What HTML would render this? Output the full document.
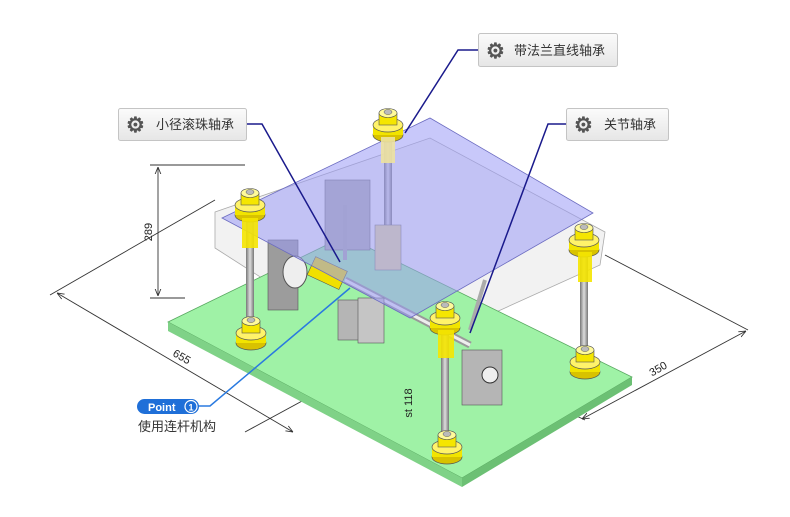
<!DOCTYPE html>
<html><head><meta charset="utf-8"><style>
body{margin:0;background:#fff;width:790px;height:512px;overflow:hidden;font-family:"Liberation Sans","Noto Sans CJK SC",sans-serif}
</style></head><body>
<svg width="790" height="512" viewBox="0 0 790 512" xmlns="http://www.w3.org/2000/svg" font-family="Liberation Sans, Noto Sans CJK SC, sans-serif">
<defs>
<linearGradient id="btn" x1="0" y1="0" x2="0" y2="1"><stop offset="0" stop-color="#fbfbfb"/><stop offset="1" stop-color="#e6e6e6"/></linearGradient>
<linearGradient id="rod" x1="0" y1="0" x2="1" y2="0"><stop offset="0" stop-color="#777"/><stop offset="0.5" stop-color="#ddd"/><stop offset="1" stop-color="#777"/></linearGradient>
<marker id="ar" viewBox="0 0 10 10" refX="10" refY="5" markerWidth="8" markerHeight="8" orient="auto-start-reverse"><path d="M0,1 L10,5 L0,9" fill="none" stroke="#333" stroke-width="1.2"/></marker>
<g id="brg"><ellipse cx="0" cy="10" rx="15" ry="7" fill="#d8c200" stroke="#555" stroke-width="0.7"/><rect x="-15" y="0" width="30" height="10" fill="#f2e400"/><ellipse cx="0" cy="0" rx="15" ry="7" fill="#fff36a" stroke="#555" stroke-width="0.7"/><rect x="-9" y="-12" width="18" height="12" fill="#f5e600" stroke="#555" stroke-width="0.6"/><ellipse cx="0" cy="-12" rx="9" ry="4.5" fill="#fffa9a" stroke="#555" stroke-width="0.6"/><ellipse cx="0" cy="-13" rx="4" ry="2.5" fill="#bbb" stroke="#555" stroke-width="0.5"/></g>
</defs>
<g stroke="#333" stroke-width="0.9" fill="none">
<line x1="57" y1="293" x2="293" y2="432" marker-start="url(#ar)" marker-end="url(#ar)"/><line x1="50" y1="295" x2="215" y2="200"/><line x1="245" y1="432" x2="455" y2="318"/>
<line x1="158" y1="167" x2="158" y2="296" marker-start="url(#ar)" marker-end="url(#ar)"/><line x1="150" y1="165" x2="245" y2="165"/><line x1="150" y1="298" x2="185" y2="298"/>
<line x1="582" y1="419" x2="746" y2="331" marker-start="url(#ar)" marker-end="url(#ar)"/><line x1="605" y1="255" x2="748" y2="330"/><line x1="490" y1="375" x2="585" y2="420"/>
<line x1="420" y1="372" x2="420" y2="435" marker-start="url(#ar)" marker-end="url(#ar)"/>
</g>
<polygon points="215,212 430,138 605,232 600,265 390,360 215,248" fill="#ececec" fill-opacity="0.7" stroke="#aaa" stroke-width="0.8"/>
<polygon points="168,322 345,236 632,377 462,478" fill="#9ff2a6" stroke="#58a860" stroke-width="0.8"/>
<polygon points="168,322 462,478 462,487 168,331" fill="#7fd287"/>
<polygon points="462,478 632,377 632,385 462,487" fill="#6cc074"/>
<rect x="268" y="240" width="30" height="70" fill="#9c9c9c" stroke="#555" stroke-width="0.6"/>
<rect x="325" y="180" width="45" height="70" fill="#b0b0b0" stroke="#666" stroke-width="0.6"/>
<ellipse cx="295" cy="272" rx="12" ry="16" fill="#eee" stroke="#555"/>
<rect x="310" y="262" width="35" height="20" fill="#f0e000" stroke="#555" stroke-width="0.6" transform="rotate(25 325 272)"/>
<line x1="345" y1="280" x2="470" y2="345" stroke="#999" stroke-width="7"/>
<line x1="345" y1="280" x2="470" y2="345" stroke="#eee" stroke-width="3"/>
<rect x="338" y="300" width="22" height="40" fill="#b5b5b5" stroke="#555" stroke-width="0.6"/>
<rect x="358" y="298" width="26" height="45" fill="#c5c5c5" stroke="#555" stroke-width="0.6"/>
<rect x="462" y="350" width="40" height="55" fill="#b5b5b5" stroke="#555" stroke-width="0.6"/>
<circle cx="490" cy="375" r="8" fill="#eee" stroke="#333"/>
<line x1="345" y1="205" x2="345" y2="260" stroke="#aaa" stroke-width="4"/>
<line x1="470" y1="330" x2="485" y2="280" stroke="#aaa" stroke-width="4"/>
<rect x="246" y="210" width="8" height="130" fill="url(#rod)"/>
<rect x="384" y="130" width="8" height="140" fill="url(#rod)"/>
<rect x="580" y="245" width="8" height="125" fill="url(#rod)"/>
<rect x="441" y="325" width="8" height="130" fill="url(#rod)"/>
<rect x="375" y="225" width="26" height="45" fill="#e6d99a" stroke="#777" stroke-width="0.6"/>
<polygon points="222,218 430,118 593,213 410,318" fill="#9a9af5" fill-opacity="0.55" stroke="#6b6bc0" stroke-width="0.8"/>
<use href="#brg" x="250" y="205"/><use href="#brg" x="388" y="125"/><use href="#brg" x="584" y="240"/><use href="#brg" x="445" y="318"/>
<use href="#brg" x="251" y="333"/><use href="#brg" x="585" y="362"/><use href="#brg" x="447" y="447"/>
<rect x="242" y="218" width="16" height="30" fill="#f5e600" opacity="0.9"/>
<rect x="578" y="252" width="14" height="30" fill="#f5e600" opacity="0.9"/>
<rect x="438" y="330" width="16" height="28" fill="#f5e600" opacity="0.9"/>
<rect x="381" y="137" width="14" height="26" fill="#ede2a0" opacity="0.9"/>
<g font-size="11" fill="#222">
<text x="152" y="232" transform="rotate(-90 152 232)" text-anchor="middle">289</text>
<text x="180" y="360" transform="rotate(30 180 360)" text-anchor="middle">655</text>
<text x="660" y="372" transform="rotate(-30 660 372)" text-anchor="middle">350</text>
<text x="412" y="403" transform="rotate(-90 412 403)" text-anchor="middle">st 118</text>
</g>
<g stroke="#1a1a8c" stroke-width="1.5" fill="none">
<polyline points="246,124 262,124 340,262"/>
<polyline points="478,50 458,50 405,133"/>
<polyline points="566,124 548,124 470,333"/>
</g>
<polyline points="198,406 210,406 350,288" stroke="#2a7ae0" stroke-width="1.5" fill="none"/>
<g font-size="13" fill="#333">
<rect x="118.5" y="108.5" width="128" height="32" rx="2" fill="url(#btn)" stroke="#c4c4c4"/>
<text x="126" y="132" font-size="21" font-weight="bold" fill="#555">⚙</text><text x="156" y="129">小径滚珠轴承</text>
<rect x="478.5" y="33.5" width="139" height="33" rx="2" fill="url(#btn)" stroke="#c4c4c4"/>
<text x="486" y="58" font-size="21" font-weight="bold" fill="#555">⚙</text><text x="514" y="55">带法兰直线轴承</text>
<rect x="566.5" y="108.5" width="102" height="32" rx="2" fill="url(#btn)" stroke="#c4c4c4"/>
<text x="574" y="132" font-size="21" font-weight="bold" fill="#555">⚙</text><text x="604" y="129">关节轴承</text>
</g>
<rect x="137" y="399" width="62" height="15" rx="7.5" fill="#1f6fd8"/>
<circle cx="191" cy="406.5" r="6" fill="#1f6fd8" stroke="#fff" stroke-width="1.2"/>
<text x="148" y="411" font-size="11" font-weight="bold" fill="#fff">Point</text>
<text x="191" y="410.5" font-size="9" font-weight="bold" fill="#fff" text-anchor="middle">1</text>
<text x="138" y="431" font-size="13" fill="#333">使用连杆机构</text>
</svg>
</body></html>
